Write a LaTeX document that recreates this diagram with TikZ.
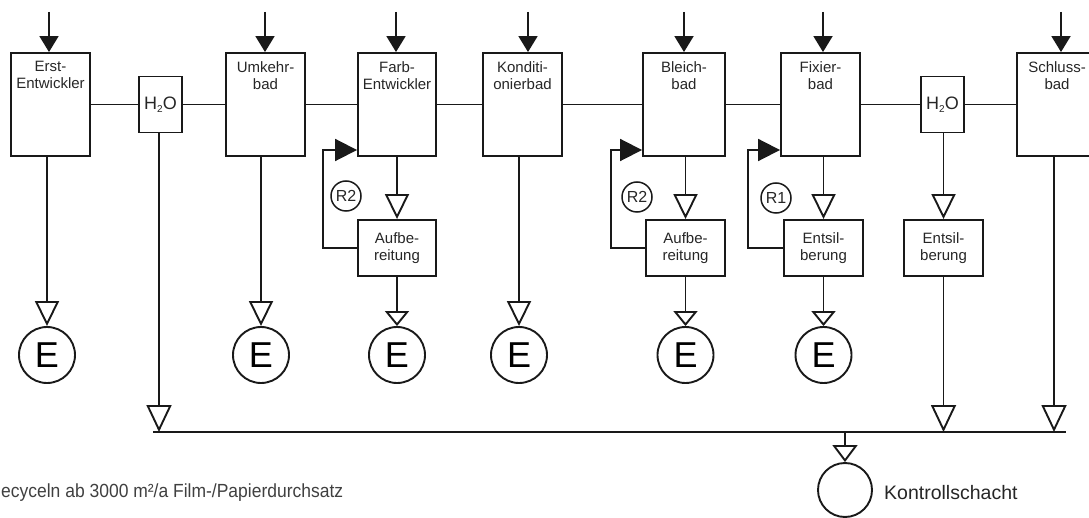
\documentclass[tikz,border=0pt]{standalone}
\usepackage{fontspec}
\usepackage{graphicx}
\setmainfont{Liberation Sans}
\usetikzlibrary{arrows.meta,calc}
\begin{document}
\begin{tikzpicture}[x=1pt,y=-1pt,
  every node/.style={text=black!85},
  ln/.style={line width=1.9pt, line join=miter, draw=black!90},
  bath/.style={ln, draw, rectangle, minimum height=103pt, inner sep=0pt},
  water/.style={ln, draw, rectangle, minimum width=43pt, minimum height=56pt,
    inner sep=0pt, font=\fontsize{18}{18}\selectfont},
  prep/.style={ln, draw, rectangle, minimum height=56pt, inner sep=0pt,
    align=center, font=\fontsize{15}{17}\selectfont},
  btext/.style={anchor=north, align=center, inner sep=0pt, yshift=-9pt,
    font=\fontsize{15}{17}\selectfont},
  disp/.style={ln, draw, circle, minimum size=56pt, inner sep=0pt,
    text=black, font=\fontsize{36}{36}\selectfont},
  rmark/.style={draw=black!90, line width=1.5pt, circle, minimum size=30pt,
    inner sep=0pt, font=\fontsize{16}{16}\selectfont},
  feed/.style={ln, -{Triangle[length=16pt,width=19pt]}},
  drainL/.style={ln, -{Triangle[length=25pt,width=24pt,fill=white]}},
  drainS/.style={ln, -{Triangle[length=15pt,width=24pt,fill=white]}},
  sink/.style={ln, -{Triangle[length=27pt,width=25pt,fill=white]}},
  ksdrain/.style={ln, -{Triangle[length=17pt,width=25pt,fill=white]}},
  loopline/.style={ln, -{Triangle[length=22pt,width=22pt]}}
]
\useasboundingbox (0,0) rectangle (1089,518);
\clip (0,0) rectangle (1089,518);

% process baths along the film path
\node[bath, minimum width=79pt, label={[btext]north:{Erst-\\Entwickler}}] (b1) at (50.5,104.5) {};
\node[water] (w1) at (160.5,104.5) {H\raisebox{-3pt}{\fontsize{10}{10}\selectfont 2}O};
\node[bath, minimum width=79pt, label={[btext]north:{Umkehr-\\bad}}] (b2) at (265.5,104.5) {};
\node[bath, minimum width=78pt, label={[btext]north:{Farb-\\Entwickler}}] (b3) at (397,104.5) {};
\node[bath, minimum width=79pt, label={[btext]north:{Konditi-\\onierbad}}] (b4) at (522.5,104.5) {};
\node[bath, minimum width=82pt, label={[btext]north:{Bleich-\\bad}}] (b5) at (684,104.5) {};
\node[bath, minimum width=79pt, label={[btext]north:{Fixier-\\bad}}] (b6) at (820.5,104.5) {};
\node[water] (w2) at (942.5,104.5) {H\raisebox{-3pt}{\fontsize{10}{10}\selectfont 2}O};
\node[bath, minimum width=80pt, label={[btext]north:{Schluss-\\bad}}] (b7) at (1057,104.5) {};

\draw[ln] (b1) -- (w1) -- (b2) -- (b3) -- (b4) -- (b5) -- (b6) -- (w2) -- (b7);

% chemical feeds
\coordinate (in1) at (49,12);
\coordinate (in2) at (265,12);
\coordinate (in3) at (396,12);
\coordinate (in4) at (528,12);
\coordinate (in5) at (684,12);
\coordinate (in6) at (823,12);
\coordinate (in7) at (1061,12);
\foreach \i in {1,...,7} {
  \draw[feed] (in\i) -- (in\i |- b\i.north);
}

% treatment units
\node[prep, minimum width=78pt] (a3) at (397,248) {Aufbe-\\reitung};
\node[prep, minimum width=79pt] (a5) at (685.5,248) {Aufbe-\\reitung};
\node[prep, minimum width=79pt] (a6) at (823.5,248) {Entsil-\\berung};
\node[prep, minimum width=79pt] (a7) at (943.5,248) {Entsil-\\berung};

% disposal
\node[disp] (e1) at (47,355) {E};
\node[disp] (e2) at (261,355) {E};
\node[disp] (e3) at (397,355) {E};
\node[disp] (e4) at (519,355) {E};
\node[disp] (e5) at (685.5,355) {E};
\node[disp] (e6) at (823.5,355) {E};

\draw[drainL] (e1 |- b1.south) -- (e1.north);
\draw[drainL] (e2 |- b2.south) -- (e2.north);
\draw[drainL] (e4 |- b4.south) -- (e4.north);

\draw[drainL] (a3 |- b3.south) -- (a3.north);
\draw[drainL] (a5 |- b5.south) -- (a5.north);
\draw[drainL] (a6 |- b6.south) -- (a6.north);
\draw[drainL] (a7 |- w2.south) -- (a7.north);

\draw[drainS] (a3.south) -- (e3.north);
\draw[drainS] (a5.south) -- (e5.north);
\draw[drainS] (a6.south) -- (e6.north);

% recirculation loops
\coordinate (l3) at (323,150);
\coordinate (l5) at (611,150);
\coordinate (l6) at (748,150);
\draw[loopline] (a3.west) -| (l3) -- (l3 -| b3.west);
\draw[loopline] (a5.west) -| (l5) -- (l5 -| b5.west);
\draw[loopline] (a6.west) -| (l6) -- (l6 -| b6.west);
\node[rmark] (r3) at (346,196) {R2};
\node[rmark] (r5) at (637,197) {R2};
\node[rmark] (r6) at (776,198) {R1};

% collector to the inspection chamber
\coordinate (cL) at (153,432);
\coordinate (cR) at (1066,432);
\coordinate (t1) at (159,432);
\coordinate (t7) at (1054,432);
\draw[ln] (cL) -- (cR);
\draw[sink] (t1 |- w1.south) -- (t1);
\draw[sink] (a7.south) -- (a7.south |- cL);
\draw[sink] (t7 |- b7.south) -- (t7);

\node[disp, minimum size=54pt] (ks) at (845,490) {};
\draw[ksdrain] (ks |- cL) -- (ks.north);
\node[anchor=west, inner sep=0pt, font=\fontsize{19.5}{20}\selectfont] (kt) at (884,493) {Kontrollschacht};

\node[anchor=base west, inner sep=0pt, text=black!75, font=\fontsize{19}{20}\selectfont] (note) at (1,497)
  {\scalebox{0.92}[1]{ecyceln ab 3000 m²/a Film-/Papierdurchsatz}};
\end{tikzpicture}
\end{document}
